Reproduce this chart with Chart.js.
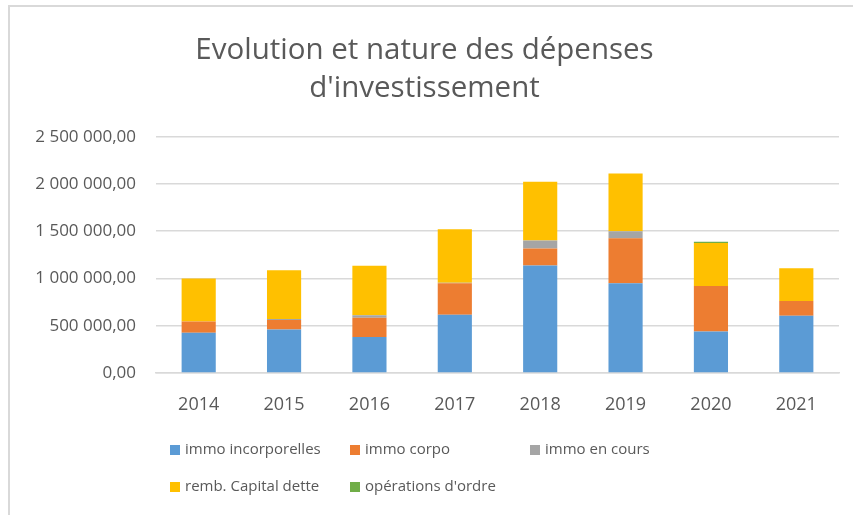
<!DOCTYPE html>
<html>
<head>
<meta charset="utf-8">
<script src="https://cdn.jsdelivr.net/npm/chart.js@4/dist/chart.umd.min.js"></script>
<style>
  html, body { margin: 0; padding: 0; background: #fff; }
  #wrap { width: 853px; height: 515px; position: relative; }
</style>
</head>
<body>
<div id="wrap"><canvas id="chart" width="853" height="515"></canvas></div>
<script>
// values
const years = ['2014', '2015', '2016', '2017', '2018', '2019', '2020', '2021'];
const immoIncorporelles = [425000, 460000, 380000, 615000, 1137000, 950000, 440000, 607000];
const immoCorpo = [120000, 100000, 205000, 335000, 180000, 475000, 480000, 155000];
const immoEnCours = [0, 10000, 25000, 5000, 85000, 75000, 0, 0];
const rembCapital = [455000, 517000, 525000, 565000, 622000, 610000, 455000, 347000];
const operationsOrdre = [0, 0, 0, 0, 0, 0, 14000, 0];
const yTicks = [0, 500000, 1000000, 1500000, 2000000, 2500000];

const textColor = '#595959';
const gridColor = '#d9d9d9';
const fontFamily = "'Open Sans', 'Noto Sans', sans-serif";

// French number format: 2 500 000,00
function frNumber(v) {
    const parts = v.toFixed(2).split('.');
    const intPart = parts[0].replace(/\B(?=(\d{3})+(?!\d))/g, ' ');
    return intPart + ',' + parts[1];
}

const series = [
    { label: 'immo incorporelles', data: immoIncorporelles, color: '#5B9BD5' },
    { label: 'immo corpo', data: immoCorpo, color: '#ED7D31' },
    { label: 'immo en cours', data: immoEnCours, color: '#A5A5A5' },
    { label: 'remb. Capital dette', data: rembCapital, color: '#FFC000' },
    { label: "opérations d'ordre", data: operationsOrdre, color: '#70AD47' }
];

// legend grid: column x and row y for each item
const legendSlots = [[170, 450], [350, 450], [530, 450], [170, 487], [350, 487]];

const frame = {
    id: 'frame',
    beforeDraw(chart) {
        const ctx = chart.ctx;
        ctx.save();
        ctx.fillStyle = '#fff';
        ctx.fillRect(0, 0, chart.width, chart.height);
        ctx.strokeStyle = gridColor;
        ctx.lineWidth = 2;
        ctx.beginPath();
        ctx.moveTo(9, chart.height);
        ctx.lineTo(9, 6);
        ctx.lineTo(chart.width, 6);
        ctx.stroke();
        ctx.restore();
    }
};

const gridLegend = {
    id: 'gridLegend',
    afterDraw(chart) {
        const ctx = chart.ctx;
        ctx.save();
        ctx.font = '15px ' + fontFamily;
        ctx.textBaseline = 'middle';
        ctx.textAlign = 'left';
        chart.data.datasets.forEach((ds, i) => {
            const [x, y] = legendSlots[i];
            ctx.fillStyle = ds.backgroundColor;
            ctx.fillRect(x, y - 5, 10, 10);
            ctx.fillStyle = textColor;
            ctx.fillText(ds.label, x + 15, y);
        });
        ctx.restore();
    }
};

new Chart(document.getElementById('chart'), {
    type: 'bar',
    data: {
        labels: years,
        datasets: series.map(s => ({
            label: s.label,
            data: s.data,
            backgroundColor: s.color,
            borderWidth: 0,
            barPercentage: 0.4,
            categoryPercentage: 1.0
        }))
    },
    options: {
        responsive: false,
        animation: false,
        layout: { padding: { left: 10, right: 14, top: 0, bottom: 0 } },
        plugins: {
            legend: { display: false },
            tooltip: { enabled: false },
            title: {
                display: true,
                text: ['Evolution et nature des dépenses', "d'investissement"],
                color: textColor,
                font: { family: fontFamily, size: 29.5, weight: 'normal', lineHeight: 1.3 },
                padding: { top: 31, bottom: 29 }
            }
        },
        scales: {
            x: {
                stacked: true,
                grid: { display: false },
                border: { display: true, color: gridColor, width: 1.5 },
                ticks: { color: textColor, font: { family: fontFamily, size: 18 }, padding: 13 },
                afterFit: (s) => { s.height = 142; }
            },
            y: {
                stacked: true,
                min: 0,
                max: 2500000,
                afterBuildTicks: (s) => { s.ticks = yTicks.map(v => ({ value: v })); },
                grid: { color: gridColor, lineWidth: 1.5, drawTicks: false },
                border: { display: false },
                ticks: {
                    color: textColor,
                    font: { family: fontFamily, size: 17 },
                    padding: 20,
                    callback: (v) => frNumber(v)
                },
                afterFit: (s) => { s.width = 146; }
            }
        }
    },
    plugins: [frame, gridLegend]
});
</script>
</body>
</html>
